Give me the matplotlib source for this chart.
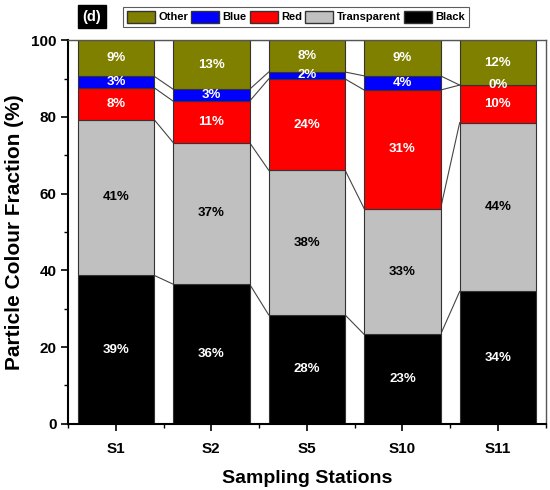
import matplotlib
matplotlib.use("Agg")
import matplotlib.pyplot as plt
from matplotlib.patches import Patch
from matplotlib.ticker import MultipleLocator
import numpy as np

plt.rcParams['font.family'] = ['Liberation Sans', 'DejaVu Sans']
plt.rcParams['font.weight'] = 'bold'

stations = ["S1", "S2", "S5", "S10", "S11"]
black = [38.7, 36.4, 28.4, 23.3, 34.5]
transparent = [40.6, 36.9, 37.7, 32.8, 44.0]
red = [8.3, 10.8, 23.8, 30.9, 9.8]
blue = [3.0, 3.1, 1.8, 3.7, 0.0]
other = [9.4, 12.8, 8.3, 9.3, 11.7]

series = [
    ("Black", black, "#000000", "white"),
    ("Transparent", transparent, "#C0C0C0", "black"),
    ("Red", red, "#FF0000", "white"),
    ("Blue", blue, "#0000FF", "white"),
    ("Other", other, "#808000", "white"),
]

fig = plt.figure(figsize=(5.5, 4.9), dpi=100)
ax = fig.add_axes([0.124, 0.135, 0.868, 0.783])

x = np.arange(1, len(stations) + 1)
width = 0.8
bottom = np.zeros(len(stations))
for name, vals, col, tcol in series:
    vals = np.array(vals)
    ax.bar(x, vals, width, bottom=bottom, color=col, edgecolor="#333333",
           linewidth=0.8, zorder=2)
    top = bottom + vals
    # connecting lines between segment tops
    for i in range(len(x) - 1):
        ax.plot([x[i] + width / 2, x[i + 1] - width / 2], [top[i], top[i + 1]],
                color="#444444", lw=0.8, zorder=1)
    for xi, b, v in zip(x, bottom, vals):
        ax.text(xi, b + v / 2, f"{v:.0f}%", ha="center", va="center",
                color=tcol, fontsize=9.5, fontweight="bold", zorder=3)
    bottom = top

ax.set_xlim(0.5, 5.5)
ax.set_ylim(0, 100)
ax.set_xticks(x)
ax.set_xticklabels(stations)
ax.set_xticks(np.arange(0.5, 6, 1), minor=True)
ax.yaxis.set_major_locator(MultipleLocator(20))
ax.yaxis.set_minor_locator(MultipleLocator(10))
ax.tick_params(axis="both", which="major", direction="out", length=5, width=1.2,
               labelsize=11)
ax.tick_params(axis="both", which="minor", direction="out", length=3, width=1.0)
ax.tick_params(axis="x", pad=8)
for lab in ax.get_xticklabels() + ax.get_yticklabels():
    lab.set_fontweight("bold")
for s in ["left", "bottom"]:
    ax.spines[s].set_linewidth(1.5)
for s in ["top", "right"]:
    ax.spines[s].set_linewidth(1.0)
    ax.spines[s].set_color("#555555")

ax.set_xlabel("Sampling Stations", fontsize=14, fontweight="bold", labelpad=10)
ax.set_ylabel("Particle Colour Fraction (%)", fontsize=15, fontweight="bold",
              labelpad=5)

handles = [Patch(facecolor=c, edgecolor="#333333", label=n)
           for n, _, c, _ in reversed(series)]
leg = fig.legend(handles=handles, loc="center", bbox_to_anchor=(0.538, 0.966),
                 ncol=5, frameon=True, fancybox=False, edgecolor="#333333",
                 prop={"weight": "bold", "size": 8}, handlelength=2.5,
                 handleheight=1.3, columnspacing=0.3, handletextpad=0.3,
                 borderpad=0.35, borderaxespad=0)
leg.get_frame().set_linewidth(0.8)

fig.text(0.167, 0.966, "(d)", ha="center", va="center", color="white",
         fontsize=10.5, fontweight="bold",
         bbox=dict(facecolor="black", edgecolor="black", boxstyle="square,pad=0.3"))

fig.savefig("out.png", dpi=100)
